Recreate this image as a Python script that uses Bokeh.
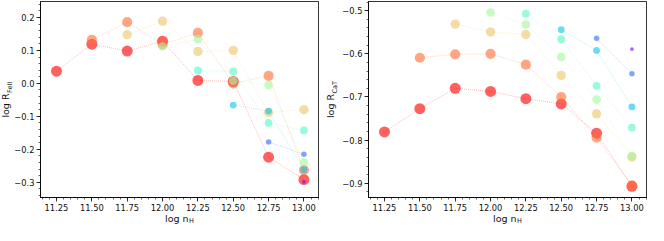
import math
from bokeh.plotting import figure
from bokeh.layouts import row
from bokeh.models import Range1d, FixedTicker, CustomJSTickFormatter, Title
from bokeh.embed import file_html
from bokeh.resources import INLINE

# ---------------- data ----------------
log_nH = [11.25, 11.50, 11.75, 12.00, 12.25, 12.50, 12.75, 13.00]
x_tick_labels = ["11.25", "11.50", "11.75", "12.00", "12.25", "12.50", "12.75", "13.00"]

# series k starts at log_nH[k]
feii_0 = [0.037, 0.119, 0.098, 0.128, 0.009, 0.006, -0.224, -0.292]
feii_1 = [0.132, 0.186, 0.118, 0.153, 0.000, 0.023, -0.263]
feii_2 = [0.148, 0.189, 0.097, 0.100, -0.088, -0.080]
feii_3 = [0.112, 0.134, 0.008, -0.005, -0.240]
feii_4 = [0.039, 0.036, -0.120, -0.143]
feii_5 = [-0.066, -0.084, -0.262]
feii_6 = [-0.178, -0.215]
feii_7 = [-0.299]

cat_0 = [-0.781, -0.727, -0.680, -0.687, -0.704, -0.716, -0.784, -0.907]
cat_1 = [-0.609, -0.601, -0.600, -0.625, -0.700, -0.794, -0.905]
cat_2 = [-0.531, -0.549, -0.555, -0.650, -0.739, -0.839]
cat_3 = [-0.504, -0.532, -0.607, -0.706, -0.837]
cat_4 = [-0.507, -0.566, -0.674, -0.771]
cat_5 = [-0.544, -0.592, -0.723]
cat_6 = [-0.564, -0.646]
cat_7 = [-0.589]

feii_yticks = [-0.3, -0.2, -0.1, 0.0, 0.1, 0.2]
cat_yticks = [-0.9, -0.8, -0.7, -0.6, -0.5]

feii_series = [feii_0, feii_1, feii_2, feii_3, feii_4, feii_5, feii_6, feii_7]
cat_series = [cat_0, cat_1, cat_2, cat_3, cat_4, cat_5, cat_6, cat_7]

# ---------------- style ----------------
colors = ["#ff0000", "#ff6f39", "#edc76f", "#a4f99f", "#5bf9c7", "#12c7e6", "#376ff9", "#8000ff"]
sizes = [11, 10.2, 9.4, 8.6, 7.8, 6.8, 5.5, 3.8]
FONT = "DejaVu Sans"
FW, FH = 278, 196
XR = (11.137, 13.103)
FEII_YR = (-0.3465, 0.2485)
CAT_YR = (-0.933, -0.4786)

# DejaVu Sans advance widths (em fraction)
ADV = {"l": 0.278, "o": 0.612, "g": 0.635, " ": 0.318, "R": 0.695, "n": 0.634,
       "F": 0.575, "e": 0.615, "I": 0.295, "C": 0.698, "a": 0.613, "T": 0.611, "H": 0.752}
ASC, DESC = 0.928, 0.236


def tw(s, size):
    return sum(ADV.get(c, 0.6) for c in s) * size


MAIN_FS, SUB_FS = 9.5, 6.5
Y_AXIS_SIZE = 26   # estimated width of y axis (ticks + labels)
X_AXIS_SIZE = 16   # estimated height of x axis (ticks + labels)


def title(text, fs, align_v, offset, standoff):
    return Title(text=text, align="left", vertical_align=align_v, offset=offset,
                 standoff=standoff, text_font=FONT, text_font_size=f"{fs}px",
                 text_font_style="normal", text_color="#111111")


def make_fig(yr, yticks, min_left, sub, main_base):
    p = figure(frame_width=FW, frame_height=FH,
               x_range=Range1d(*XR), y_range=Range1d(*yr),
               min_border_left=min_left, min_border_right=2,
               min_border_top=1, min_border_bottom=28,
               output_backend="svg", toolbar_location=None)
    p.xgrid.visible = False
    p.ygrid.visible = False
    p.outline_line_color = "black"
    p.outline_line_width = 0.8
    p.outline_line_alpha = 1.0
    p.background_fill_color = "white"
    p.border_fill_color = "white"

    xminor = [round(11.15 + 0.05 * i, 2) for i in range(40) if 11.13 < 11.15 + 0.05 * i < 13.11]
    p.xaxis.ticker = FixedTicker(ticks=log_nH, minor_ticks=xminor)
    p.xaxis.formatter = CustomJSTickFormatter(code="return tick.toFixed(2);")
    lo = math.ceil(yr[0] / 0.02)
    hi = math.floor(yr[1] / 0.02)
    yminor = [round(0.02 * i, 2) for i in range(lo, hi + 1)]
    p.yaxis.ticker = FixedTicker(ticks=yticks, minor_ticks=yminor)
    p.yaxis.formatter = CustomJSTickFormatter(
        code="var s = tick.toFixed(1); if (s == '-0.0') { s = '0.0'; } return s.replace('-', '\u2212');")

    for ax in (p.xaxis[0], p.yaxis[0]):
        ax.axis_line_color = "black"
        ax.axis_line_width = 0.8
        ax.major_tick_line_color = "black"
        ax.major_tick_line_width = 0.8
        ax.minor_tick_line_color = "black"
        ax.minor_tick_line_width = 0.6
        ax.major_tick_in = 0
        ax.major_tick_out = 4
        ax.minor_tick_in = 0
        ax.minor_tick_out = 2
        ax.major_label_text_font = FONT
        ax.major_label_text_font_size = "8.3px"
        ax.major_label_text_color = "#111111"
        ax.major_label_standoff = 2

    # ---- y label: "log R" + subscript, as titles in the left panel ----
    wm = tw("log R", MAIN_FS)
    ws = tw(sub, SUB_FS)
    total = wm + ws + 0.5
    off_main = FH / 2 - total / 2
    off_sub = off_main + wm + 0.5
    sub_h = (ASC + DESC) * SUB_FS
    sub_right = -Y_AXIS_SIZE
    sub_sx = main_base + 2.5 + DESC * SUB_FS
    st_sub = 2 * (sub_right - sub_sx)
    size_sub = 2 + sub_h + st_sub
    main_right = sub_right - size_sub
    main_sx = main_base + DESC * MAIN_FS
    st_main = 2 * (main_right - main_sx)
    p.add_layout(title(sub, SUB_FS, "bottom", off_sub, st_sub), "left")
    p.add_layout(title("log R", MAIN_FS, "bottom", off_main, st_main), "left")

    # ---- x label: "log n" + subscript H, as titles in the below panel ----
    xm = tw("log n", MAIN_FS)
    xs = tw("H", SUB_FS)
    xstart = FW / 2 - (xm + xs + 0.5) / 2
    main_h = (ASC + DESC) * MAIN_FS
    mtop = X_AXIS_SIZE
    m_sy = 24.0 - ASC * MAIN_FS
    st_m = 2 * (m_sy - mtop)
    size_m = 2 + main_h + st_m
    stop = mtop + size_m
    s_sy = 26.3 - ASC * SUB_FS
    st_s = 2 * (s_sy - stop)
    p.add_layout(title("log n", MAIN_FS, "top", xstart, st_m), "below")
    p.add_layout(title("H", SUB_FS, "top", xstart + xm + 0.5, st_s), "below")
    return p


def draw(p, series):
    for k, vals in enumerate(series):
        xs = log_nH[k:k + len(vals)]
        p.line(xs, vals, line_color=colors[k], line_width=0.9, line_alpha=0.3, line_dash="1 1")
    for k, vals in enumerate(series):
        xs = log_nH[k:k + len(vals)]
        p.scatter(xs, vals, size=sizes[k], fill_color=colors[k], fill_alpha=0.62,
                  line_color=None)


p1 = make_fig(FEII_YR, feii_yticks, 40, "FeII", -28)
draw(p1, feii_series)
p2 = make_fig(CAT_YR, cat_yticks, 48, "CaT", -31)
draw(p2, cat_series)

layout = row(p1, p2)
open("out.html", "w").write(file_html(layout, INLINE))
